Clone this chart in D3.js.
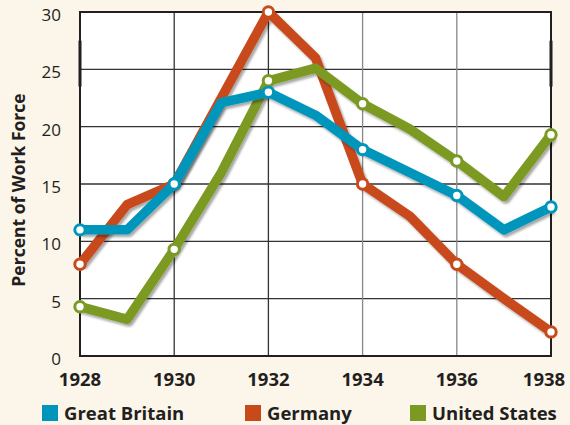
<!DOCTYPE html>
<html>
<head>
<meta charset="utf-8">
<script src="https://cdn.jsdelivr.net/npm/d3@7"></script>
<style>
  html, body { margin: 0; padding: 0; background: #fcf5ea; }
  svg { display: block; }
</style>
</head>
<body>
<svg id="chart" width="570" height="425"></svg>
<script>
const years = [1928, 1929, 1930, 1931, 1932, 1933, 1934, 1935, 1936, 1937, 1938];
const greatBritain = [11, 11, 15, 22.1, 23, 21, 18, 16, 14, 11, 13];
const germany = [8, 13.2, 15, 22.5, 30, 26, 15, 12.2, 8, 5, 2.1];
const unitedStates = [4.3, 3.2, 9.3, 16, 24, 25.1, 22, 19.8, 17, 13.9, 19.3];
const xTicks = [1928, 1930, 1932, 1934, 1936, 1938];
const yTicks = [0, 5, 10, 15, 20, 25, 30];

const series = [
  { name: "Germany", values: germany, color: "#c84a1b" },
  { name: "United States", values: unitedStates, color: "#7b9a23" },
  { name: "Great Britain", values: greatBritain, color: "#0096bc" }
];
const legendOrder = ["Great Britain", "Germany", "United States"];

const svg = d3.select("#chart");
const margin = { top: 12, right: 19, bottom: 69, left: 80 };
const width = 570, height = 425;
const innerWidth = width - margin.left - margin.right;
const innerHeight = height - margin.top - margin.bottom;
const ink = "#231f20";

const x = d3.scaleLinear().domain([1928, 1938]).range([0, innerWidth]);
const y = d3.scaleLinear().domain([0, 30]).range([innerHeight, 0]);

// shadow under the lines
const defs = svg.append("defs");
const filter = defs.append("filter").attr("id", "shadow")
  .attr("x", "-10%").attr("y", "-10%").attr("width", "130%").attr("height", "130%");
filter.append("feDropShadow")
  .attr("dx", 2).attr("dy", 2.5).attr("stdDeviation", 1.3)
  .attr("flood-color", "#000").attr("flood-opacity", 0.35);

const g = svg.append("g").attr("transform", `translate(${margin.left},${margin.top})`);

g.append("rect").attr("width", innerWidth).attr("height", innerHeight).attr("fill", "#fff");

// grid
g.selectAll(".hgrid").data(yTicks.filter(d => d > 0 && d < 30)).enter().append("line")
  .attr("x1", 0).attr("x2", innerWidth)
  .attr("y1", d => y(d)).attr("y2", d => y(d))
  .attr("stroke", "#333").attr("stroke-width", 1.3);
g.selectAll(".vgrid").data(xTicks.slice(1, -1)).enter().append("line")
  .attr("x1", d => x(d)).attr("x2", d => x(d))
  .attr("y1", 0).attr("y2", innerHeight)
  .attr("stroke", d => d > 1932 ? "#888" : "#333").attr("stroke-width", 1.3);

// frame
g.append("rect").attr("width", innerWidth).attr("height", innerHeight)
  .attr("fill", "none").attr("stroke", ink).attr("stroke-width", 2);
[0, innerWidth].forEach(px => {
  g.append("rect").attr("x", px - 1.5).attr("y", y(27.5)).attr("width", 3)
    .attr("height", y(23.5) - y(27.5)).attr("fill", ink);
});

// lines
const line = d3.line().x((d, i) => x(years[i])).y(d => y(d));
series.forEach(s => {
  const sg = g.append("g");
  sg.append("path").datum(s.values)
    .attr("fill", "none").attr("stroke", s.color).attr("stroke-width", 9.5)
    .attr("stroke-linejoin", "round").attr("filter", "url(#shadow)")
    .attr("d", line);
  sg.selectAll("circle").data(years.map((yr, i) => ({ yr, v: s.values[i] })).filter(d => xTicks.includes(d.yr)))
    .enter().append("circle")
    .attr("cx", d => x(d.yr)).attr("cy", d => y(d.v)).attr("r", 5.2)
    .attr("fill", "#fff").attr("stroke", s.color).attr("stroke-width", 3);
});

// axes labels
g.selectAll(".ylab").data(yTicks).enter().append("text")
  .attr("x", -19).attr("y", d => y(d) + 9)
  .attr("text-anchor", "end")
  .attr("font-family", "Open Sans, sans-serif").attr("font-size", 17)
  .attr("fill", ink).text(d => d);
g.selectAll(".xlab").data(xTicks).enter().append("text")
  .attr("x", d => x(d) - (d === 1938 ? 7 : 0)).attr("y", innerHeight + 30)
  .attr("text-anchor", "middle")
  .attr("font-family", "Open Sans, sans-serif").attr("font-weight", "bold").attr("font-size", 18.5)
  .attr("fill", ink).text(d => d);

svg.append("text")
  .attr("transform", `translate(25,190) rotate(-90)`)
  .attr("text-anchor", "middle")
  .attr("font-family", "Open Sans, sans-serif").attr("font-weight", "bold").attr("font-size", 17.5)
  .attr("fill", ink).text("Percent of Work Force");

// legend
const legendX = [42, 245, 410];
legendOrder.forEach((name, i) => {
  const s = series.find(d => d.name === name);
  const lg = svg.append("g").attr("transform", `translate(${legendX[i]},405)`);
  lg.append("rect").attr("width", 16).attr("height", 16).attr("fill", s.color);
  lg.append("text").attr("x", 22).attr("y", 15)
    .attr("font-family", "Open Sans, sans-serif").attr("font-weight", "bold").attr("font-size", 18.5)
    .attr("fill", ink).text(name);
});
</script>
</body>
</html>
